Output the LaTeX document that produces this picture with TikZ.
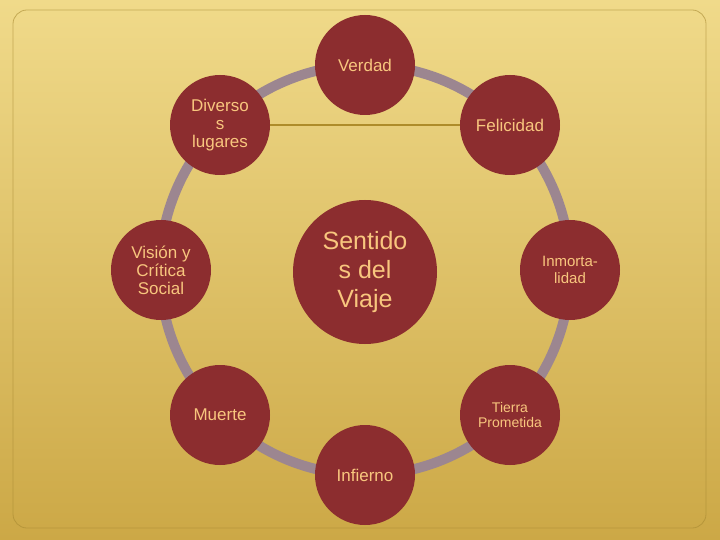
\documentclass[tikz,border=0pt]{standalone}
\usepackage{fontspec}
\setmainfont{Liberation Sans}
\definecolor{bgtop}{HTML}{F0DA8A}
\definecolor{bgmid}{HTML}{E0C262}
\definecolor{bgbot}{HTML}{CCA846}
\definecolor{framec}{HTML}{A88A32}
\definecolor{ringc}{HTML}{9C8690}
\definecolor{bub}{HTML}{8C2D2F}
\definecolor{txt}{HTML}{F8C67E}
\definecolor{linec}{HTML}{AE8C2A}
\begin{document}
\begin{tikzpicture}[x=1pt,y=-1pt,
	bubble/.style={circle,fill=bub,minimum size=100pt,inner sep=0pt,align=center,text=txt,font=\fontsize{17}{18}\selectfont},
	small/.style={font=\fontsize{14}{15}\selectfont}]
	% Background
	\shade [top color=bgtop,middle color=bgmid,bottom color=bgbot] (0,0) rectangle (720,540);
	\useasboundingbox (0,0) rectangle (720,540);
	\draw [framec,line width=0.8pt,opacity=0.6,rounded corners=14pt] (13,10) rectangle (706,528);
	% Ring
	\draw [ringc,line width=10pt] (365,270) circle (205);
	% Bubbles
	\node[bubble] (ver) at (365,65) {Verdad};
	\node[bubble] (div) at (220,125) {Diverso\\s\\lugares};
	\node[bubble] (fel) at (510,125) {Felicidad};
	\node[bubble] (vis) at (161,270) {Visión y\\Crítica\\Social};
	\node[bubble,minimum size=144pt,font=\fontsize{25}{29}\selectfont] (sen) at (365,272) {Sentido\\s del\\Viaje};
	\node[bubble,font=\fontsize{15}{17}\selectfont] (inm) at (570,270) {Inmorta-\\lidad};
	\node[bubble,small] (tie) at (510,415) {Tierra\\Prometida};
	\node[bubble] (mue) at (220,415) {Muerte};
	\node[bubble] (inf) at (365,475) {Infierno};
	% Line
	\draw [linec,line width=1.8pt] (div) -- (fel);
\end{tikzpicture}
\end{document}
